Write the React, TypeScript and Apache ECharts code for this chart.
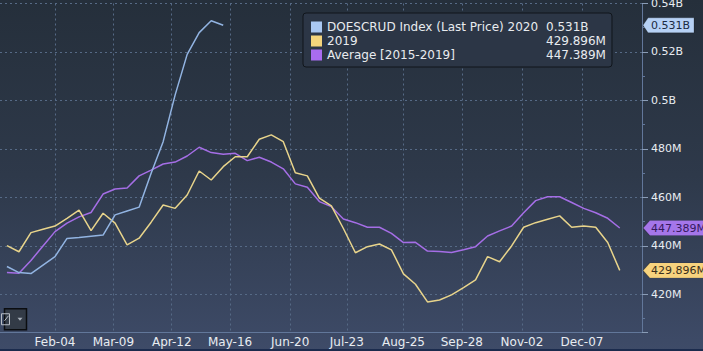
import React, { useEffect, useRef } from "react";
import * as echarts from "echarts";

// ---------- data ----------
const seriesNames = ["DOESCRUD Index (Last Price) 2020", "2019", "Average [2015-2019]"];
const legendValues = ["0.531B", "429.896M", "447.389M"];
const tagValues = [531.0, 429.896, 447.389];

// x axis: day of year (2020), labels
const tickLabelDays = [35, 69, 103, 137, 172, 205, 238, 272, 307, 342];
const tickLabels = ["Feb-04", "Mar-09", "Apr-12", "May-16", "Jun-20", "Jul-23", "Aug-25", "Sep-28", "Nov-02", "Dec-07"];
const firstWeekDay = 7; // first weekly observation (day of year)
const weekLength = 7;

// values in millions of barrels
const values2020 = [431.5, 429.0, 428.6, 432.1, 435.6, 443.1, 443.5, 444.0, 444.5, 452.8, 454.4, 456.0, 470.0, 483.0, 502.3, 519.0, 528.0, 532.9, 531.0];
const values2019 = [440.1, 437.6, 445.5, 446.9, 448.2, 451.4, 454.8, 446.3, 453.5, 449.4, 440.4, 443.2, 449.8, 456.9, 455.5, 461.0, 470.9, 467.2, 472.7, 476.8, 476.8, 484.0, 485.8, 483.0, 470.2, 468.9, 459.7, 456.5, 447.2, 437.2, 439.7, 440.8, 438.4, 428.5, 424.2, 416.9, 417.7, 419.8, 422.8, 426.0, 435.6, 433.5, 440.0, 447.7, 449.6, 451.0, 452.4, 447.7, 448.2, 447.7, 441.4, 429.9];
const valuesAvg = [429.0, 428.7, 434.0, 440.0, 445.9, 449.4, 452.0, 453.8, 461.4, 463.5, 463.9, 468.9, 471.3, 473.8, 474.6, 477.1, 480.7, 478.5, 477.8, 478.2, 475.2, 476.6, 474.6, 471.8, 465.6, 464.2, 458.3, 456.2, 451.1, 449.6, 447.7, 447.7, 445.2, 441.4, 441.5, 437.9, 437.7, 437.3, 438.4, 439.7, 444.1, 446.2, 448.2, 453.7, 458.7, 460.3, 460.3, 457.9, 455.5, 453.7, 451.4, 447.4];

// axis ranges
const X_MIN = 2.96;
const X_MAX = 376.96;
const Y_MIN = 404.5;
const Y_MAX = 540;

const lineColors = ["#92b4e2", "#e8d48b", "#a56ee6"];
const iconColors = ["#aac8f2", "#f5d57c", "#a96cf0"];
const tagBg = ["#b6d1f5", "#f7d37e", "#a576ea"];
const tagText = ["#1c2b42", "#3a301c", "#37195f"];
const tagWidths = [51, 67, 67];

const FONT = "DejaVu Sans, Verdana, sans-serif";

const toPoints = (vals: number[]) => vals.map((v, k) => [firstWeekDay + weekLength * k, v]);

export default function App() {
  const ref = useRef<HTMLDivElement>(null);

  useEffect(() => {
    if (!ref.current) return;
    const chart = echarts.init(ref.current, undefined, { renderer: "svg" });
    const allValues = [values2020, values2019, valuesAvg];

    const gridColor = "#566a86";
    const axisColor = "#62779a";

    const series = allValues.map((vals, i) => ({
      name: seriesNames[i],
      type: "line",
      data: toPoints(vals),
      symbol: "none",
      showSymbol: false,
      z: 10 - i,
      lineStyle: { width: 1.5, color: lineColors[i] },
      itemStyle: { color: iconColors[i] },
      markPoint: {
        silent: true,
        symbol: "path://M0,7.5L6,0L60,0L60,15L6,15Z",
        symbolSize: [tagWidths[i], 15],
        symbolKeepAspect: false,
        symbolOffset: [tagWidths[i] / 2 + 1, 0],
        itemStyle: { color: tagBg[i], borderColor: "rgba(0,0,0,0.35)", borderWidth: 0.5 },
        label: {
          show: true,
          position: "inside",
          offset: [2, 0],
          color: tagText[i],
          fontSize: 11,
          fontFamily: FONT,
          formatter: () => legendValues[i],
        },
        data: [{ coord: [X_MAX, tagValues[i]] }],
      },
    }));

    chart.setOption({
      animation: false,
      backgroundColor: "transparent",
      grid: { left: 0, right: 61, top: 3.5, bottom: 19, containLabel: false, outerBoundsMode: "none" },
      legend: {
        orient: "vertical",
        left: 303,
        top: 13,
        padding: [8, 6, 6, 8],
        itemGap: 2,
        itemWidth: 11,
        itemHeight: 11,
        icon: "rect",
        selectedMode: false,
        backgroundColor: "#2c3646",
        borderColor: "#10151b",
        borderWidth: 1,
        borderRadius: 3,
        data: seriesNames.map((n, i) => ({ name: n, itemStyle: { color: iconColors[i] } })),
        formatter: (name: string) => {
          const i = seriesNames.indexOf(name);
          return `{a|${name}}{b|${legendValues[i]}}`;
        },
        textStyle: {
          color: "#e8ebef",
          fontSize: 12,
          fontFamily: FONT,
          rich: {
            a: { width: 219, color: "#e8ebef", fontSize: 12, fontFamily: FONT, lineHeight: 14 },
            b: { width: 56, color: "#e8ebef", fontSize: 12, fontFamily: FONT, lineHeight: 14 },
          },
        },
      },
      xAxis: {
        type: "value",
        min: X_MIN,
        max: X_MAX,
        axisLine: { show: true, onZero: false, lineStyle: { color: axisColor, width: 1 } },
        axisTick: { show: false, customValues: tickLabelDays },
        axisLabel: {
          customValues: tickLabelDays,
          color: "#e8ecf1",
          fontSize: 12,
          fontFamily: FONT,
          margin: 4,
          formatter: (v: number) => {
            const idx = tickLabelDays.findIndex((d) => Math.abs(d - v) < 0.01);
            return idx >= 0 ? tickLabels[idx] : "";
          },
        },
        splitLine: { show: true, lineStyle: { color: gridColor, type: [2, 3], width: 1 } },
      },
      yAxis: {
        type: "value",
        position: "right",
        min: Y_MIN,
        max: Y_MAX,
        splitNumber: 7,
        minInterval: 20,
        maxInterval: 20,
        axisLine: { show: true, lineStyle: { color: axisColor, width: 1 } },
        axisTick: { show: true, length: 6, lineStyle: { color: "#8a9cb6" } },
        minorTick: { show: true, splitNumber: 2, length: 3, lineStyle: { color: axisColor } },
        axisLabel: {
          color: "#e8ecf1",
          fontSize: 11,
          fontFamily: FONT,
          margin: 9,
          showMinLabel: false,
          formatter: (v: number) => (v >= 500 ? `${+(v / 1000).toFixed(3)}B` : `${Math.round(v)}M`),
        },
        splitLine: { show: true, lineStyle: { color: gridColor, type: [2, 3], width: 1 } },
      },
      graphic: [
        { type: "rect", left: 0, bottom: 0, shape: { width: 703, height: 2 }, style: { fill: "#1b2b4d" }, silent: true },
        {
          type: "group",
          left: -1,
          top: 308,
          silent: true,
          children: [
            { type: "rect", shape: { x: 0, y: 0, width: 22, height: 21 }, style: { fill: "#333b47", stroke: "#0b0d10", lineWidth: 1.5 } },
            { type: "rect", shape: { x: -3, y: 5, width: 8, height: 11 }, style: { fill: "none", stroke: "#b8bec6", lineWidth: 1 } },
            { type: "polyline", shape: { points: [[0, 12], [4, 7]] }, style: { stroke: "#b8bec6", lineWidth: 1 } },
            { type: "polygon", shape: { points: [[13, 9], [18, 9], [15.5, 12]] }, style: { fill: "#a8b0bb" } },
          ],
        },
      ],
      series,
    });

    return () => chart.dispose();
  }, []);

  return (
    <div
      ref={ref}
      style={{
        position: "fixed",
        left: 0,
        top: 0,
        width: 703,
        height: 351,
        background: "linear-gradient(180deg, #252f3b 0%, #2e394a 50%, #3e4b68 100%)",
      }}
    />
  );
}
